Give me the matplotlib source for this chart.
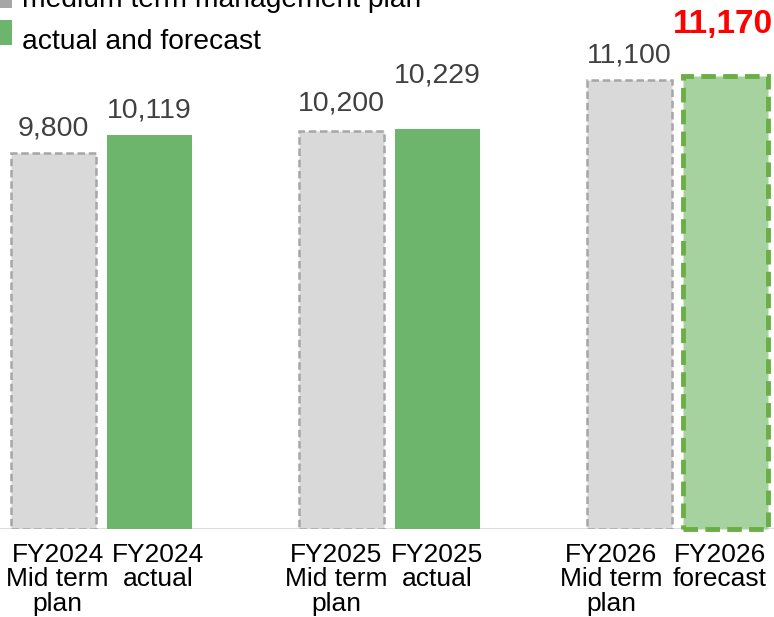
import matplotlib
matplotlib.use("Agg")
import matplotlib.pyplot as plt

categories = ["FY2024\nMid term\nplan", "FY2024\nactual",
              "FY2025\nMid term\nplan", "FY2025\nactual",
              "FY2026\nMid term\nplan", "FY2026\nforecast"]
values = [9800, 10119, 10200, 10229, 11100, 11170]
labels = ["9,800", "10,119", "10,200", "10,229", "11,100", "11,170"]
positions = [0, 1, 3, 4, 6, 7]
kinds = ["plan", "actual", "plan", "actual", "plan", "forecast"]
legend_labels = ["medium term management plan", "actual and forecast"]

# style-only offsets (points) for label placement
value_dy = [8, 8, 10, 29, 8, 26]
value_dx = [0, 0, 0, 0, 0, -2]
tick_dx = [3, 6, -4, 0, -13, -4]

plt.rcParams['font.family'] = ['Liberation Sans', 'DejaVu Sans']

fig = plt.figure(figsize=(7.74, 6.17), dpi=100)
ax = fig.add_axes([0, 88/617, 1, 529/617])

base = 3104
for i, (x, v, lab, k) in enumerate(zip(positions, values, labels, kinds)):
    if k == "plan":
        ax.bar(x, v - base, bottom=base, width=0.88, color="#D9D9D9",
               edgecolor="#A6A6A6", linewidth=1.8, linestyle=(0, (3, 1.5)), zorder=2)
        ax.annotate(lab, (x, v), xytext=(value_dx[i], value_dy[i]), textcoords="offset points",
                    ha="center", va="bottom", fontsize=20.5, color="#404040")
    elif k == "actual":
        ax.bar(x, v - base, bottom=base, width=0.88, color="#6DB56D",
               edgecolor="none", zorder=2)
        ax.annotate(lab, (x, v), xytext=(value_dx[i], value_dy[i]), textcoords="offset points",
                    ha="center", va="bottom", fontsize=20.5, color="#404040")
    else:
        ax.bar(x, v - base, bottom=base, width=0.88, color="#A6D2A0",
               edgecolor="#6AAE45", linewidth=3.5, linestyle=(0, (3, 1.5)), zorder=3,
               clip_on=False)
        ax.annotate(lab, (x, v), xytext=(value_dx[i], value_dy[i]), textcoords="offset points",
                    ha="center", va="bottom", fontsize=24, color="#FF0000",
                    fontweight="bold")

ax.axhline(base, color="#D9D9D9", linewidth=2, zorder=1)

ax.set_xlim(-0.557, 7.505)
ax.set_ylim(base, base + 529 / 0.05615)
ax.set_xticks([])
ax.set_yticks([])
for s in ax.spines.values():
    s.set_visible(False)

for i, (x, cat) in enumerate(zip(positions, categories)):
    ax.annotate(cat, xy=(x, 0), xycoords=ax.get_xaxis_transform(),
                xytext=(tick_dx[i], -10), textcoords="offset points",
                ha="center", va="top", fontsize=19, linespacing=1.03,
                color="black", annotation_clip=False)

# Legend (partially cropped at the top, as in the reference)
fig.patches.append(plt.Rectangle((0, 1 - 8/617), 12/774, 14/617, transform=fig.transFigure,
                                 facecolor="#A6A6A6", edgecolor="none"))
fig.text(22/774, 1 + 0/617, legend_labels[0], fontsize=20.3, color="black", va="center", ha="left")
fig.patches.append(plt.Rectangle((0, 1 - 45/617), 12/774, 25/617, transform=fig.transFigure,
                                 facecolor="#6DB56D", edgecolor="none"))
fig.text(22/774, 1 - 42/617, legend_labels[1], fontsize=20.3, color="black", va="center", ha="left")

fig.savefig("out.png", dpi=100)
